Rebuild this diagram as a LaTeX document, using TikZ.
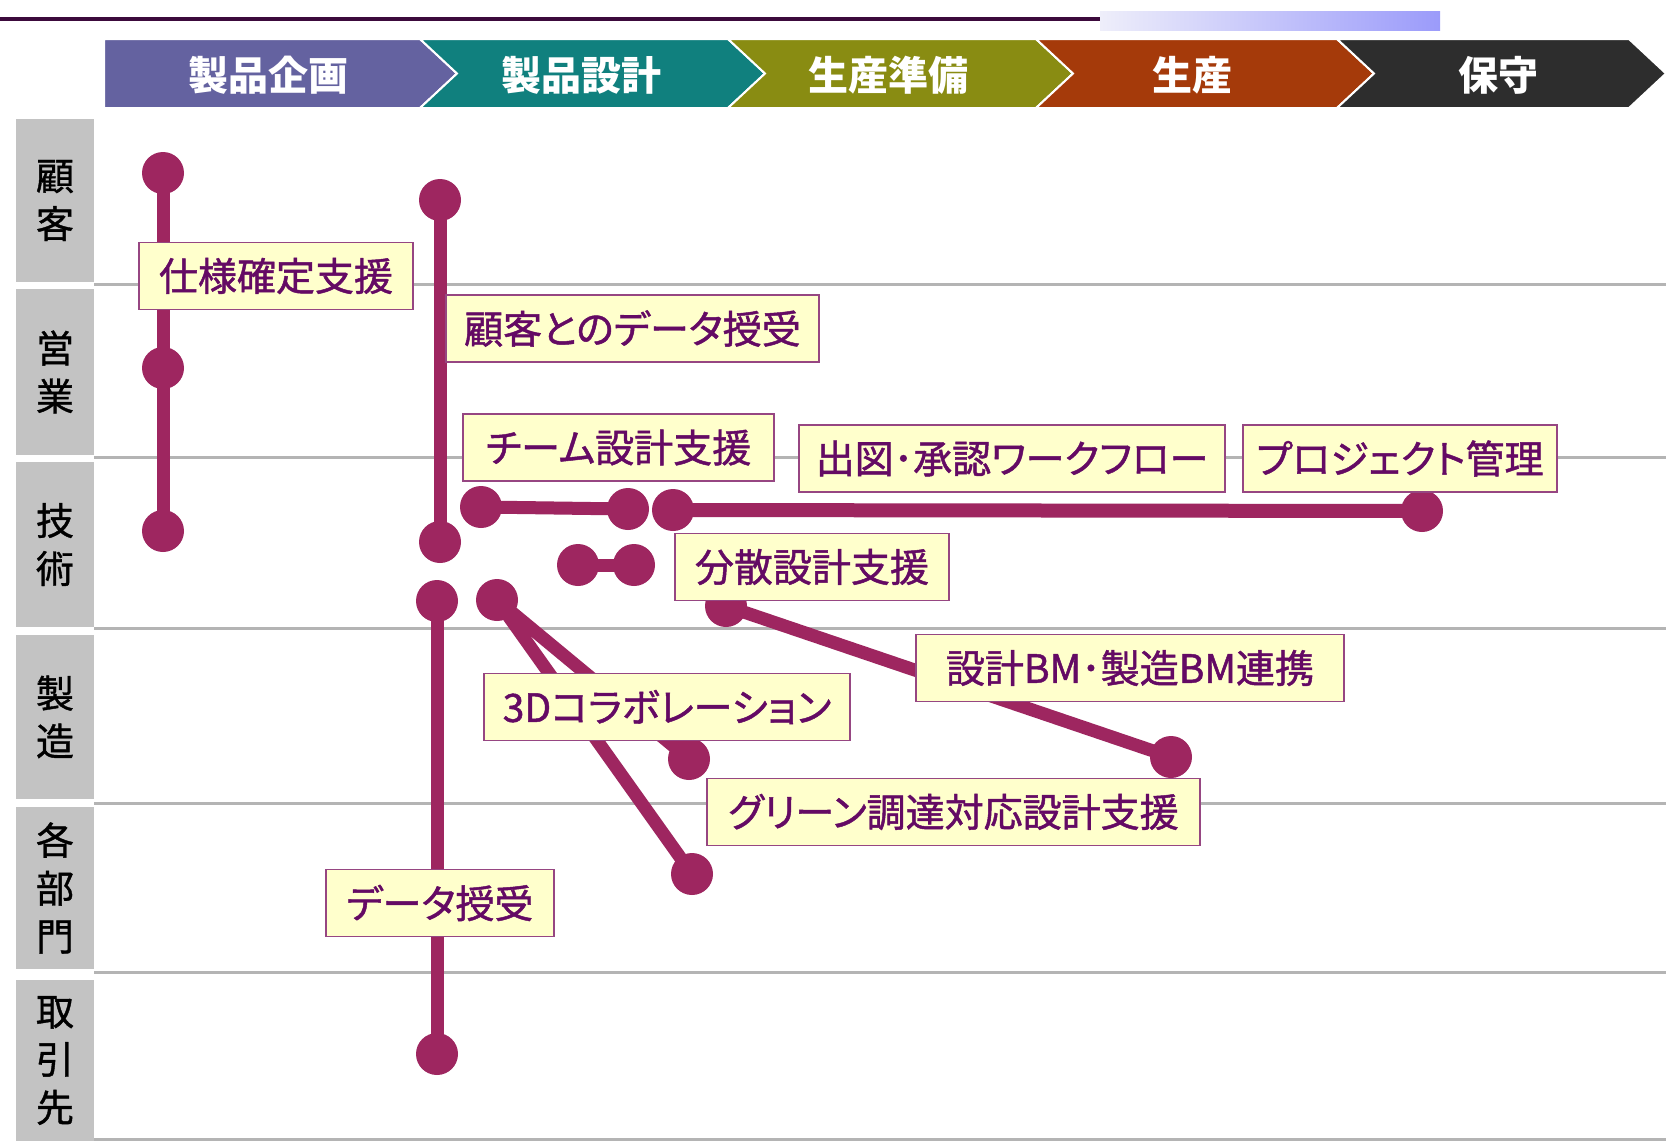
\documentclass[tikz,border=0pt]{standalone}
\usepackage{fontspec}
\newfontfamily\jp{Noto Sans CJK JP}
\newfontfamily\jpl[FakeBold=1.2,RawFeature=+palt]{Noto Sans CJK JP}
\newfontfamily\jpr[FakeBold=1.0]{Noto Sans CJK JP}
\definecolor{dotc}{RGB}{158,38,96}
\definecolor{boxc}{RGB}{150,70,130}
\definecolor{boxfill}{RGB}{255,255,204}
\definecolor{txtc}{RGB}{100,10,100}
\definecolor{rowgray}{RGB}{195,195,195}
\definecolor{gridc}{RGB}{180,180,180}
\definecolor{topc}{RGB}{60,10,60}
\definecolor{gl}{RGB}{238,238,250}
\definecolor{gr}{RGB}{155,155,250}
\definecolor{ch1}{RGB}{100,98,160}
\definecolor{ch2}{RGB}{16,128,126}
\definecolor{ch3}{RGB}{137,140,18}
\definecolor{ch4}{RGB}{165,58,10}
\definecolor{ch5}{RGB}{45,45,45}
\begin{document}
\begin{tikzpicture}[x=1pt,y=-1pt,
  dotn/.style={circle, fill=dotc, minimum size=42, inner sep=0},
  conn/.style={draw=dotc, line width=13},
  lbl/.style={draw=boxc, line width=1.5, fill=boxfill, text=txtc, font=\jpl\fontsize{39}{44}\selectfont, inner sep=0, minimum height=67},
  rowlbl/.style={fill=rowgray, minimum width=78, inner sep=0, font=\jpr\fontsize{38}{48}\selectfont, align=center, text=black},
  chev/.style={draw=white, line width=2},
  chevtxt/.style={text=white, font=\jp\bfseries\fontsize{40}{42}\selectfont},
  gridln/.style={draw=gridc, line width=3}
]
\useasboundingbox (0,0) rectangle (1666,1141);
\fill[white] (0,0) rectangle (1666,1141);

% top decoration
\draw[line width=4, draw=topc] (0,19) -- (1100,19);
\shade[left color=gl, right color=gr] (1100,11) rectangle (1440,30);

% chevrons
\fill[ch1, chev] (104,39) -- (420,39) -- (457,73.5) -- (420,108) -- (104,108) -- cycle;
\fill[ch2, chev] (420,39) -- (728,39) -- (765,73.5) -- (728,108) -- (420,108) -- (457,73.5) -- cycle;
\fill[ch3, chev] (728,39) -- (1036,39) -- (1073,73.5) -- (1036,108) -- (728,108) -- (765,73.5) -- cycle;
\fill[ch4, chev] (1036,39) -- (1337,39) -- (1374,73.5) -- (1337,108) -- (1036,108) -- (1073,73.5) -- cycle;
\fill[ch5, chev] (1337,39) -- (1629,39) -- (1666,73.5) -- (1629,108) -- (1337,108) -- (1374,73.5) -- cycle;
\node[chevtxt] (p1) at (268,75) {製品企画};
\node[chevtxt] (p2) at (581,75) {製品設計};
\node[chevtxt] (p3) at (888,75) {生産準備};
\node[chevtxt] (p4) at (1192,75) {生産};
\node[chevtxt] (p5) at (1498,75) {保守};

% row labels
\node[rowlbl, minimum height=163] (r1) at (55,200.5) {顧\\客};
\node[rowlbl, minimum height=166] (r2) at (55,372) {営\\業};
\node[rowlbl, minimum height=165] (r3) at (55,544.5) {技\\術};
\node[rowlbl, minimum height=164] (r4) at (55,717) {製\\造};
\node[rowlbl, minimum height=162] (r5) at (55,888) {各\\部\\門};
\node[rowlbl, minimum height=161] (r6) at (55,1060.5) {取\\引\\先};

% grid lines
\foreach \yy in {284,457,628,803,972,1139} {
  \draw[gridln] (94,\yy) -- (1666,\yy);
}

% dots
\node[dotn] (A1) at (163,173) {};
\node[dotn] (A2) at (163,368) {};
\node[dotn] (A3) at (163,531) {};
\node[dotn] (B1) at (440,200) {};
\node[dotn] (B2) at (440,542) {};
\node[dotn] (C1) at (437,601) {};
\node[dotn] (C2) at (437,1054) {};
\node[dotn] (D1) at (481,507) {};
\node[dotn] (D2) at (628,509) {};
\node[dotn] (E1) at (673,510) {};
\node[dotn] (E2) at (1422,511) {};
\node[dotn] (F1) at (578,565) {};
\node[dotn] (F2) at (634,565) {};
\node[dotn] (G1) at (726,606) {};
\node[dotn] (G2) at (1171,757) {};
\node[dotn] (H0) at (497,600) {};
\node[dotn] (H1) at (689,759) {};
\node[dotn] (H2) at (692,874) {};

% connectors
\draw[conn] (A1.center) -- (A2.center);
\draw[conn] (A2.center) -- (A3.center);
\draw[conn] (B1.center) -- (B2.center);
\draw[conn] (C1.center) -- (C2.center);
\draw[conn] (D1.center) -- (D2.center);
\draw[conn, line width=14] (E1.center) -- (E2.center);
\draw[conn] (F1.center) -- (F2.center);
\draw[conn] (G1.center) -- (G2.center);
\draw[conn] (H0.center) -- (H1.center);
\draw[conn] (H0.center) -- (H2.center);

% label boxes
\node[lbl, minimum width=274] (b1) at (276,276) {仕様確定支援};
\node[lbl, minimum width=373] (b2) at (632.5,328.5) {顧客とのデータ授受};
\node[lbl, minimum width=311] (b3) at (618.5,447.5) {チーム設計支援};
\node[lbl, minimum width=426] (b4) at (1012,458.5) {出図･承認ワークフロー};
\node[lbl, minimum width=314] (b5) at (1400,458.5) {プロジェクト管理};
\node[lbl, minimum width=274] (b6) at (812,567) {分散設計支援};
\node[lbl, minimum width=428] (b7) at (1130,668) {設計BM･製造BM連携};
\node[lbl, minimum width=366] (b8) at (667,707) {3Dコラボレーション};
\node[lbl, minimum width=493] (b9) at (953.5,812) {グリーン調達対応設計支援};
\node[lbl, minimum width=228] (b10) at (440,903) {データ授受};
\end{tikzpicture}
\end{document}
